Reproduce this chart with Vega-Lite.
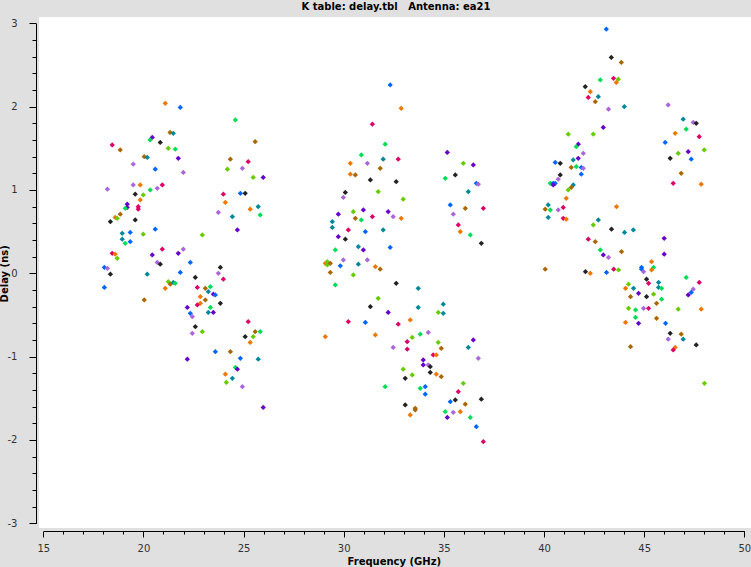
{
"$schema": "https://vega.github.io/schema/vega-lite/v6.json",
"width": 712, "height": 511,
"autosize": {"type": "none"},
"padding": {"left": 39, "top": 17, "right": 0, "bottom": 39},
"background": "#e0e0e0",
"view": {"fill": "white", "stroke": null},
"title": {"text": "K table: delay.tbl\u00a0\u00a0\u00a0Antenna: ea21", "font": "DejaVu Sans", "fontSize": 10, "fontWeight": "bold", "color": "#000000", "anchor": "middle", "offset": 5, "dx": 1},
"data": {"values": [
{"freq":21.09,"delay":2.04,"series":"O"},{"freq":21.84,"delay":1.99,"series":"B"},{"freq":24.59,"delay":1.84,"series":"G"},{"freq":21.33,"delay":1.69,"series":"N"},{"freq":21.49,"delay":1.68,"series":"T"},{"freq":20.44,"delay":1.63,"series":"V"},{"freq":20.33,"delay":1.60,"series":"G"},{"freq":18.44,"delay":1.54,"series":"M"},{"freq":20.84,"delay":1.57,"series":"K"},{"freq":25.58,"delay":1.58,"series":"N"},
{"freq":21.24,"delay":1.50,"series":"Y"},{"freq":21.59,"delay":1.49,"series":"G"},{"freq":18.84,"delay":1.48,"series":"N"},{"freq":20.04,"delay":1.40,"series":"N"},{"freq":20.19,"delay":1.39,"series":"T"},{"freq":21.74,"delay":1.38,"series":"V"},{"freq":24.34,"delay":1.37,"series":"N"},{"freq":25.23,"delay":1.34,"series":"M"},{"freq":19.49,"delay":1.31,"series":"L"},{"freq":20.59,"delay":1.25,"series":"B"},
{"freq":21.99,"delay":1.21,"series":"L"},{"freq":24.19,"delay":1.25,"series":"Y"},{"freq":24.94,"delay":1.26,"series":"L"},{"freq":25.48,"delay":1.15,"series":"Y"},{"freq":25.98,"delay":1.15,"series":"V"},{"freq":18.20,"delay":1.01,"series":"L"},{"freq":19.49,"delay":1.06,"series":"L"},{"freq":19.84,"delay":1.06,"series":"O"},{"freq":20.94,"delay":1.06,"series":"M"},{"freq":20.69,"delay":1.02,"series":"L"},
{"freq":20.34,"delay":1.00,"series":"G"},{"freq":19.99,"delay":0.94,"series":"Y"},{"freq":19.59,"delay":0.95,"series":"K"},{"freq":19.84,"delay":0.88,"series":"O"},{"freq":19.19,"delay":0.83,"series":"V"},{"freq":19.19,"delay":0.79,"series":"V"},{"freq":19.09,"delay":0.78,"series":"G"},{"freq":19.74,"delay":0.80,"series":"M"},{"freq":19.74,"delay":0.77,"series":"M"},{"freq":18.84,"delay":0.71,"series":"N"},
{"freq":18.59,"delay":0.67,"series":"O"},{"freq":18.69,"delay":0.66,"series":"Y"},{"freq":18.35,"delay":0.62,"series":"K"},{"freq":19.59,"delay":0.64,"series":"K"},{"freq":23.99,"delay":0.95,"series":"M"},{"freq":24.84,"delay":0.96,"series":"B"},{"freq":25.08,"delay":0.96,"series":"K"},{"freq":24.09,"delay":0.85,"series":"O"},{"freq":23.74,"delay":0.73,"series":"L"},{"freq":25.33,"delay":0.77,"series":"O"},
{"freq":25.73,"delay":0.80,"series":"T"},{"freq":24.44,"delay":0.68,"series":"T"},{"freq":25.83,"delay":0.70,"series":"G"},{"freq":24.69,"delay":0.52,"series":"V"},{"freq":22.94,"delay":0.46,"series":"Y"},{"freq":20.59,"delay":0.53,"series":"B"},{"freq":18.94,"delay":0.48,"series":"T"},{"freq":19.34,"delay":0.49,"series":"B"},{"freq":18.94,"delay":0.41,"series":"T"},{"freq":19.34,"delay":0.38,"series":"B"},
{"freq":19.09,"delay":0.36,"series":"G"},{"freq":19.99,"delay":0.47,"series":"Y"},{"freq":18.44,"delay":0.24,"series":"M"},{"freq":18.59,"delay":0.23,"series":"O"},{"freq":18.69,"delay":0.18,"series":"Y"},{"freq":20.94,"delay":0.29,"series":"M"},{"freq":20.44,"delay":0.22,"series":"V"},{"freq":21.74,"delay":0.24,"series":"V"},{"freq":21.99,"delay":0.29,"series":"L"},{"freq":22.34,"delay":0.13,"series":"B"},
{"freq":20.69,"delay":0.13,"series":"L"},{"freq":20.84,"delay":0.11,"series":"K"},{"freq":18.05,"delay":0.07,"series":"B"},{"freq":18.20,"delay":0.06,"series":"L"},{"freq":18.35,"delay":-0.01,"series":"K"},{"freq":20.19,"delay":-0.01,"series":"T"},{"freq":21.84,"delay":0.01,"series":"B"},{"freq":23.84,"delay":0.07,"series":"K"},{"freq":23.74,"delay":0.00,"series":"L"},{"freq":22.59,"delay":-0.05,"series":"K"},
{"freq":23.99,"delay":-0.07,"series":"M"},{"freq":18.05,"delay":-0.17,"series":"B"},{"freq":20.04,"delay":-0.32,"series":"N"},{"freq":21.09,"delay":-0.18,"series":"O"},{"freq":21.24,"delay":-0.10,"series":"Y"},{"freq":21.34,"delay":-0.13,"series":"N"},{"freq":21.49,"delay":-0.11,"series":"T"},{"freq":21.59,"delay":-0.12,"series":"G"},{"freq":22.69,"delay":-0.17,"series":"M"},{"freq":23.09,"delay":-0.18,"series":"N"},
{"freq":23.34,"delay":-0.16,"series":"G"},{"freq":23.24,"delay":-0.22,"series":"T"},{"freq":22.84,"delay":-0.28,"series":"O"},{"freq":23.49,"delay":-0.25,"series":"V"},{"freq":23.59,"delay":-0.26,"series":"B"},{"freq":23.09,"delay":-0.32,"series":"N"},{"freq":22.84,"delay":-0.36,"series":"O"},{"freq":22.69,"delay":-0.38,"series":"M"},{"freq":23.84,"delay":-0.36,"series":"K"},{"freq":22.19,"delay":-0.41,"series":"V"},
{"freq":23.34,"delay":-0.41,"series":"G"},{"freq":22.34,"delay":-0.48,"series":"B"},{"freq":22.44,"delay":-0.52,"series":"L"},{"freq":23.24,"delay":-0.47,"series":"T"},{"freq":23.49,"delay":-0.47,"series":"V"},{"freq":22.59,"delay":-0.64,"series":"K"},{"freq":22.94,"delay":-0.70,"series":"Y"},{"freq":22.44,"delay":-0.72,"series":"L"},{"freq":25.23,"delay":-0.58,"series":"M"},{"freq":25.58,"delay":-0.70,"series":"N"},
{"freq":25.83,"delay":-0.70,"series":"G"},{"freq":25.48,"delay":-0.76,"series":"Y"},{"freq":25.08,"delay":-0.76,"series":"K"},{"freq":25.33,"delay":-0.83,"series":"O"},{"freq":23.59,"delay":-0.94,"series":"B"},{"freq":24.34,"delay":-0.94,"series":"N"},{"freq":24.84,"delay":-1.02,"series":"B"},{"freq":25.73,"delay":-1.03,"series":"T"},{"freq":22.19,"delay":-1.03,"series":"V"},{"freq":24.59,"delay":-1.13,"series":"G"},
{"freq":24.69,"delay":-1.15,"series":"V"},{"freq":24.09,"delay":-1.21,"series":"O"},{"freq":24.44,"delay":-1.26,"series":"T"},{"freq":24.14,"delay":-1.31,"series":"Y"},{"freq":24.94,"delay":-1.36,"series":"L"},{"freq":25.98,"delay":-1.61,"series":"V"},
{"freq":32.32,"delay":2.26,"series":"B"},{"freq":32.87,"delay":1.98,"series":"O"},{"freq":31.43,"delay":1.79,"series":"M"},{"freq":32.07,"delay":1.55,"series":"G"},{"freq":30.88,"delay":1.42,"series":"G"},{"freq":30.33,"delay":1.32,"series":"O"},{"freq":31.18,"delay":1.32,"series":"L"},{"freq":31.97,"delay":1.37,"series":"T"},{"freq":32.72,"delay":1.37,"series":"M"},{"freq":31.82,"delay":1.26,"series":"N"},
{"freq":30.33,"delay":1.19,"series":"O"},{"freq":30.58,"delay":1.18,"series":"N"},{"freq":31.33,"delay":1.12,"series":"K"},{"freq":32.62,"delay":1.10,"series":"K"},{"freq":30.08,"delay":0.97,"series":"K"},{"freq":29.98,"delay":0.91,"series":"L"},{"freq":31.72,"delay":0.98,"series":"Y"},{"freq":32.97,"delay":0.89,"series":"Y"},{"freq":30.98,"delay":0.76,"series":"V"},{"freq":30.48,"delay":0.74,"series":"Y"},
{"freq":29.73,"delay":0.71,"series":"V"},{"freq":30.58,"delay":0.66,"series":"N"},{"freq":30.88,"delay":0.64,"series":"G"},{"freq":31.43,"delay":0.68,"series":"M"},{"freq":32.22,"delay":0.74,"series":"V"},{"freq":32.47,"delay":0.68,"series":"L"},{"freq":32.87,"delay":0.66,"series":"O"},{"freq":29.43,"delay":0.62,"series":"T"},{"freq":29.43,"delay":0.55,"series":"T"},{"freq":30.23,"delay":0.52,"series":"M"},
{"freq":31.08,"delay":0.50,"series":"B"},{"freq":31.97,"delay":0.52,"series":"T"},{"freq":29.73,"delay":0.44,"series":"V"},{"freq":30.08,"delay":0.41,"series":"K"},{"freq":30.73,"delay":0.32,"series":"T"},{"freq":30.98,"delay":0.28,"series":"V"},{"freq":32.32,"delay":0.31,"series":"B"},{"freq":29.58,"delay":0.28,"series":"G"},{"freq":29.98,"delay":0.16,"series":"L"},{"freq":31.18,"delay":0.16,"series":"L"},
{"freq":29.08,"delay":0.12,"series":"O"},{"freq":29.18,"delay":0.14,"series":"Y"},{"freq":29.18,"delay":0.10,"series":"Y"},{"freq":29.33,"delay":0.12,"series":"N"},{"freq":29.83,"delay":0.09,"series":"B"},{"freq":30.73,"delay":0.11,"series":"T"},{"freq":31.58,"delay":0.08,"series":"O"},{"freq":31.82,"delay":0.05,"series":"N"},{"freq":35.17,"delay":1.45,"series":"V"},{"freq":35.97,"delay":1.32,"series":"Y"},
{"freq":36.47,"delay":1.30,"series":"V"},{"freq":35.07,"delay":1.14,"series":"G"},{"freq":35.57,"delay":1.18,"series":"K"},{"freq":36.62,"delay":1.08,"series":"B"},{"freq":36.72,"delay":1.07,"series":"L"},{"freq":36.22,"delay":0.98,"series":"T"},{"freq":35.32,"delay":0.82,"series":"B"},{"freq":36.07,"delay":0.78,"series":"N"},{"freq":36.97,"delay":0.78,"series":"M"},{"freq":35.47,"delay":0.71,"series":"L"},
{"freq":35.72,"delay":0.58,"series":"M"},{"freq":35.82,"delay":0.50,"series":"O"},{"freq":36.32,"delay":0.46,"series":"G"},{"freq":36.87,"delay":0.36,"series":"K"},{"freq":29.33,"delay":0.01,"series":"N"},{"freq":30.48,"delay":-0.02,"series":"Y"},{"freq":29.58,"delay":-0.14,"series":"G"},{"freq":32.62,"delay":-0.12,"series":"K"},{"freq":33.72,"delay":-0.18,"series":"T"},{"freq":31.72,"delay":-0.30,"series":"Y"},
{"freq":31.33,"delay":-0.40,"series":"K"},{"freq":33.72,"delay":-0.41,"series":"T"},{"freq":34.97,"delay":-0.37,"series":"T"},{"freq":34.72,"delay":-0.47,"series":"Y"},{"freq":34.97,"delay":-0.48,"series":"T"},{"freq":32.22,"delay":-0.47,"series":"V"},{"freq":30.23,"delay":-0.58,"series":"M"},{"freq":31.08,"delay":-0.59,"series":"B"},{"freq":32.72,"delay":-0.61,"series":"M"},{"freq":33.32,"delay":-0.56,"series":"O"},
{"freq":29.08,"delay":-0.76,"series":"O"},{"freq":31.58,"delay":-0.74,"series":"O"},{"freq":34.22,"delay":-0.71,"series":"L"},{"freq":33.82,"delay":-0.73,"series":"G"},{"freq":33.42,"delay":-0.77,"series":"Y"},{"freq":33.17,"delay":-0.82,"series":"M"},{"freq":34.72,"delay":-0.83,"series":"Y"},{"freq":34.87,"delay":-0.90,"series":"N"},{"freq":33.17,"delay":-0.91,"series":"M"},{"freq":32.47,"delay":-0.89,"series":"L"},
{"freq":34.47,"delay":-0.98,"series":"M"},{"freq":34.62,"delay":-0.98,"series":"O"},{"freq":36.47,"delay":-0.80,"series":"V"},{"freq":36.22,"delay":-0.89,"series":"T"},{"freq":36.72,"delay":-1.02,"series":"L"},{"freq":33.97,"delay":-1.04,"series":"V"},{"freq":33.97,"delay":-1.10,"series":"V"},{"freq":34.22,"delay":-1.10,"series":"L"},{"freq":34.32,"delay":-1.12,"series":"K"},{"freq":34.32,"delay":-1.19,"series":"K"},
{"freq":34.62,"delay":-1.21,"series":"O"},{"freq":34.87,"delay":-1.24,"series":"N"},{"freq":32.97,"delay":-1.15,"series":"Y"},{"freq":33.42,"delay":-1.22,"series":"Y"},{"freq":33.07,"delay":-1.26,"series":"K"},{"freq":32.07,"delay":-1.36,"series":"G"},{"freq":33.82,"delay":-1.38,"series":"G"},{"freq":34.07,"delay":-1.36,"series":"B"},{"freq":34.07,"delay":-1.45,"series":"B"},{"freq":35.97,"delay":-1.32,"series":"Y"},
{"freq":35.72,"delay":-1.42,"series":"M"},{"freq":35.32,"delay":-1.54,"series":"B"},{"freq":35.57,"delay":-1.52,"series":"K"},{"freq":36.07,"delay":-1.57,"series":"N"},{"freq":36.87,"delay":-1.51,"series":"K"},{"freq":33.07,"delay":-1.58,"series":"K"},{"freq":33.57,"delay":-1.62,"series":"N"},{"freq":33.57,"delay":-1.64,"series":"N"},{"freq":33.32,"delay":-1.70,"series":"O"},{"freq":35.07,"delay":-1.66,"series":"G"},
{"freq":35.47,"delay":-1.67,"series":"L"},{"freq":35.82,"delay":-1.66,"series":"O"},{"freq":35.17,"delay":-1.73,"series":"V"},{"freq":36.32,"delay":-1.73,"series":"G"},{"freq":36.62,"delay":-1.84,"series":"B"},{"freq":36.97,"delay":-2.02,"series":"M"},
{"freq":43.11,"delay":2.93,"series":"B"},{"freq":43.36,"delay":2.59,"series":"K"},{"freq":43.86,"delay":2.53,"series":"N"},{"freq":42.81,"delay":2.32,"series":"G"},{"freq":43.47,"delay":2.34,"series":"M"},{"freq":43.71,"delay":2.33,"series":"Y"},{"freq":43.61,"delay":2.29,"series":"O"},{"freq":42.06,"delay":2.24,"series":"K"},{"freq":42.31,"delay":2.18,"series":"O"},{"freq":42.71,"delay":2.12,"series":"T"},
{"freq":42.21,"delay":2.11,"series":"M"},{"freq":42.56,"delay":2.06,"series":"N"},{"freq":43.22,"delay":1.97,"series":"L"},{"freq":44.01,"delay":2.00,"series":"T"},{"freq":42.96,"delay":1.75,"series":"V"},{"freq":41.21,"delay":1.67,"series":"Y"},{"freq":42.46,"delay":1.67,"series":"Y"},{"freq":41.71,"delay":1.55,"series":"V"},{"freq":41.61,"delay":1.52,"series":"G"},{"freq":41.96,"delay":1.44,"series":"L"},
{"freq":41.46,"delay":1.36,"series":"T"},{"freq":41.71,"delay":1.38,"series":"V"},{"freq":40.56,"delay":1.33,"series":"B"},{"freq":40.81,"delay":1.32,"series":"K"},{"freq":41.36,"delay":1.27,"series":"N"},{"freq":41.61,"delay":1.28,"series":"G"},{"freq":41.86,"delay":1.27,"series":"B"},{"freq":41.96,"delay":1.26,"series":"L"},{"freq":41.86,"delay":1.19,"series":"B"},{"freq":40.81,"delay":1.18,"series":"K"},
{"freq":40.71,"delay":1.13,"series":"L"},{"freq":40.31,"delay":1.08,"series":"G"},{"freq":40.46,"delay":1.08,"series":"B"},{"freq":40.56,"delay":1.08,"series":"B"},{"freq":40.46,"delay":1.06,"series":"V"},{"freq":41.46,"delay":1.06,"series":"T"},{"freq":41.36,"delay":1.03,"series":"N"},{"freq":41.21,"delay":1.00,"series":"Y"},{"freq":41.11,"delay":0.90,"series":"O"},{"freq":40.21,"delay":0.82,"series":"T"},
{"freq":40.06,"delay":0.77,"series":"N"},{"freq":40.31,"delay":0.76,"series":"G"},{"freq":40.71,"delay":0.76,"series":"L"},{"freq":40.96,"delay":0.79,"series":"M"},{"freq":43.62,"delay":0.80,"series":"O"},{"freq":46.20,"delay":2.02,"series":"L"},{"freq":46.95,"delay":1.85,"series":"T"},{"freq":47.45,"delay":1.81,"series":"L"},{"freq":47.60,"delay":1.80,"series":"K"},{"freq":47.10,"delay":1.73,"series":"G"},
{"freq":46.55,"delay":1.68,"series":"O"},{"freq":47.75,"delay":1.64,"series":"M"},{"freq":46.05,"delay":1.57,"series":"B"},{"freq":48.00,"delay":1.48,"series":"Y"},{"freq":46.70,"delay":1.44,"series":"Y"},{"freq":47.20,"delay":1.46,"series":"V"},{"freq":46.30,"delay":1.38,"series":"K"},{"freq":47.35,"delay":1.37,"series":"B"},{"freq":46.85,"delay":1.20,"series":"N"},{"freq":46.45,"delay":1.08,"series":"M"},
{"freq":47.85,"delay":1.07,"series":"O"},{"freq":40.21,"delay":0.67,"series":"T"},{"freq":40.96,"delay":0.66,"series":"M"},{"freq":41.11,"delay":0.65,"series":"O"},{"freq":42.46,"delay":0.58,"series":"Y"},{"freq":42.71,"delay":0.64,"series":"T"},{"freq":43.37,"delay":0.53,"series":"K"},{"freq":44.02,"delay":0.49,"series":"T"},{"freq":44.46,"delay":0.52,"series":"T"},{"freq":46.00,"delay":0.42,"series":"V"},
{"freq":42.21,"delay":0.41,"series":"M"},{"freq":42.56,"delay":0.38,"series":"N"},{"freq":42.81,"delay":0.28,"series":"G"},{"freq":43.87,"delay":0.26,"series":"N"},{"freq":42.96,"delay":0.22,"series":"V"},{"freq":43.22,"delay":0.19,"series":"L"},{"freq":46.00,"delay":0.23,"series":"V"},{"freq":40.06,"delay":0.05,"series":"N"},{"freq":42.07,"delay":0.02,"series":"K"},{"freq":42.31,"delay":0.00,"series":"O"},
{"freq":43.12,"delay":0.01,"series":"B"},{"freq":43.48,"delay":0.05,"series":"M"},{"freq":43.72,"delay":0.04,"series":"Y"},{"freq":45.37,"delay":0.14,"series":"O"},{"freq":44.87,"delay":0.07,"series":"B"},{"freq":44.87,"delay":0.05,"series":"B"},{"freq":44.97,"delay":0.02,"series":"L"},{"freq":45.47,"delay":0.07,"series":"G"},{"freq":45.37,"delay":0.04,"series":"O"},{"freq":45.12,"delay":-0.07,"series":"K"},
{"freq":45.22,"delay":-0.12,"series":"M"},{"freq":45.72,"delay":-0.11,"series":"T"},{"freq":45.72,"delay":-0.17,"series":"T"},{"freq":45.87,"delay":-0.18,"series":"G"},{"freq":44.22,"delay":-0.13,"series":"Y"},{"freq":44.07,"delay":-0.18,"series":"O"},{"freq":44.47,"delay":-0.18,"series":"T"},{"freq":44.32,"delay":-0.28,"series":"N"},{"freq":44.72,"delay":-0.24,"series":"V"},{"freq":45.12,"delay":-0.28,"series":"K"},
{"freq":45.47,"delay":-0.25,"series":"Y"},{"freq":45.87,"delay":-0.31,"series":"G"},{"freq":45.62,"delay":-0.36,"series":"N"},{"freq":44.22,"delay":-0.42,"series":"Y"},{"freq":44.57,"delay":-0.44,"series":"G"},{"freq":44.97,"delay":-0.42,"series":"L"},{"freq":45.22,"delay":-0.42,"series":"M"},{"freq":44.57,"delay":-0.53,"series":"G"},{"freq":44.07,"delay":-0.59,"series":"O"},{"freq":44.72,"delay":-0.60,"series":"V"},
{"freq":45.62,"delay":-0.54,"series":"N"},{"freq":46.07,"delay":-0.60,"series":"B"},{"freq":47.10,"delay":-0.05,"series":"G"},{"freq":47.75,"delay":-0.11,"series":"M"},{"freq":47.45,"delay":-0.19,"series":"L"},{"freq":47.35,"delay":-0.23,"series":"B"},{"freq":47.20,"delay":-0.26,"series":"V"},{"freq":46.70,"delay":-0.43,"series":"Y"},{"freq":47.85,"delay":-0.43,"series":"O"},{"freq":46.30,"delay":-0.72,"series":"K"},
{"freq":46.85,"delay":-0.73,"series":"N"},{"freq":46.95,"delay":-0.79,"series":"T"},{"freq":46.20,"delay":-0.79,"series":"L"},{"freq":46.55,"delay":-0.89,"series":"O"},{"freq":46.45,"delay":-0.92,"series":"M"},{"freq":47.60,"delay":-0.86,"series":"K"},{"freq":44.32,"delay":-0.88,"series":"N"},{"freq":48.01,"delay":-1.32,"series":"Y"}
]},
"mark": {"type": "point", "shape": "diamond", "filled": true, "size": 28, "opacity": 1, "strokeWidth": 0},
"encoding": {
"x": {"field": "freq", "type": "quantitative",
 "scale": {"domain": [15, 50], "range": [4.3, 705.3], "nice": false, "zero": false},
 "axis": {"values": [15,16,17,18,19,20,21,22,23,24,25,26,27,28,29,30,31,32,33,34,35,36,37,38,39,40,41,42,43,44,45,46,47,48,49,50],
  "labelExpr": "datum.value % 5 === 0 ? datum.label : ''",
  "tickSize": {"condition": {"test": "datum.value % 5 === 0", "value": 6}, "value": 3},
  "offset": 3, "grid": false, "domainColor": "#000000", "tickColor": "#000000", "domainWidth": 1, "tickWidth": 1,
  "labelFont": "DejaVu Sans", "labelFontSize": 10, "labelColor": "#333333", "labelPadding": 6,
  "labelFlush": false, "labelOverlap": false, "labelBound": false,
  "title": "Frequency (GHz)", "titleFont": "DejaVu Sans", "titleFontSize": 10, "titleFontWeight": "bold", "titleColor": "#000000", "titlePadding": 3}},
"y": {"field": "delay", "type": "quantitative",
 "scale": {"domain": [-3, 3], "range": [506.3, 6.3], "nice": false, "zero": false},
 "axis": {"values": [-3,-2.8,-2.6,-2.4,-2.2,-2,-1.8,-1.6,-1.4,-1.2,-1,-0.8,-0.6,-0.4,-0.2,0,0.2,0.4,0.6,0.8,1,1.2,1.4,1.6,1.8,2,2.2,2.4,2.6,2.8,3],
  "labelExpr": "abs(datum.value - round(datum.value)) < 0.001 ? '' + round(datum.value) : ''",
  "tickSize": {"condition": {"test": "abs(datum.value - round(datum.value)) < 0.001", "value": 7}, "value": 4},
  "offset": 3, "grid": false, "domainColor": "#000000", "tickColor": "#000000", "domainWidth": 1, "tickWidth": 1,
  "labelFont": "DejaVu Sans", "labelFontSize": 10, "labelColor": "#333333", "labelPadding": 12,
  "labelFlush": false, "labelOverlap": false, "labelBound": false,
  "title": "Delay (ns)", "titleFont": "DejaVu Sans", "titleFontSize": 10, "titleFontWeight": "bold", "titleColor": "#000000", "titlePadding": -2}},
"color": {"field": "series", "type": "nominal",
 "scale": {"domain": ["K","B","V","L","M","O","N","G","Y","T"], "range": ["#222222","#0066ff","#6600cc","#aa66dd","#dd0066","#ee7700","#aa6600","#00dd55","#66cc00","#008899"]},
 "legend": null}
}
}
